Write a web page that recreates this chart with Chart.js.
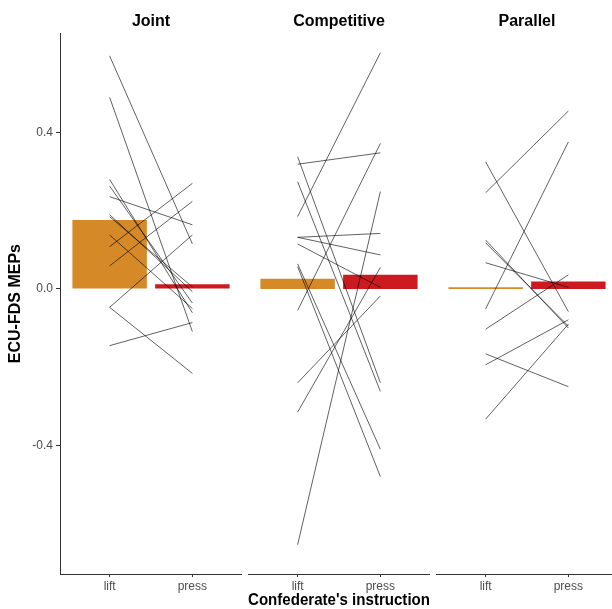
<!DOCTYPE html>
<html>
<head>
<meta charset="utf-8">
<script src="https://cdn.jsdelivr.net/npm/chart.js@4.4.1/dist/chart.umd.min.js"></script>
<style>
  html, body { margin: 0; padding: 0; background: #fff; overflow: hidden; width: 612px; height: 609px; }
  canvas { position: absolute; top: 0; }
</style>
</head>
<body>
<canvas id="c0" width="242" height="609" style="left:0px;width:242px;height:609px"></canvas>
<canvas id="c1" width="182" height="609" style="left:248px;width:182px;height:609px"></canvas>
<canvas id="c2" width="182" height="609" style="left:436px;width:182px;height:609px"></canvas>
<script>
// ---- data ----
const conditions = ['Joint', 'Competitive', 'Parallel'];
const instructions = ['lift', 'press'];
const meanLift  = [0.176, 0.026, 0.004];
const meanPress = [0.012, 0.036, 0.019];
const yTicks = [-0.4, 0.0, 0.4];

const jointLift  = [0.596, 0.490, 0.280, 0.263, 0.236, 0.190, 0.185, 0.138, 0.108, 0.059, -0.047, -0.047, -0.145];
const jointPress = [0.115, -0.109, -0.061, -0.036, 0.164, -0.007, 0.005, -0.050, 0.270, 0.224, 0.138, -0.216, -0.086];

const compLift  = [0.185, 0.319, 0.338, 0.274, -0.055, 0.132, 0.132, 0.115, 0.064, 0.057, -0.240, -0.315, -0.654];
const compPress = [0.604, 0.348, -0.240, -0.262, 0.372, 0.142, 0.087, 0.004, -0.410, -0.480, -0.018, 0.055, 0.249];

const parLift  = [0.325, 0.246, 0.125, 0.118, 0.067, -0.051, -0.103, -0.166, -0.194, -0.333];
const parPress = [-0.058, 0.455, -0.100, -0.095, 0.004, 0.376, 0.036, -0.250, -0.079, -0.090];

const subjLift  = [jointLift, compLift, parLift];
const subjPress = [jointPress, compPress, parPress];

// ---- styles ----
const FONT = '"Liberation Sans", Arial, Helvetica, sans-serif';
const ORANGE = '#D68A27';
const RED = '#CB1B20';
const AXIS = '#333333';
const LABEL = '#4D4D4D';
const Y_MIN = -0.729, Y_MAX = 0.654;

function makePanel(id, idx) {
  const lift = subjLift[idx], press = subjPress[idx];
  const datasets = [{
    type: 'bar',
    data: [{x: 1, y: meanLift[idx]}, {x: 2, y: meanPress[idx]}],
    backgroundColor: [ORANGE, RED],
    borderWidth: 0,
    categoryPercentage: 1,
    barPercentage: 0.9,
    order: 1
  }];
  lift.forEach((v, i) => {
    datasets.push({
      type: 'line',
      data: [{x: 1, y: v}, {x: 2, y: press[i]}],
      borderColor: 'rgba(0,0,0,0.78)',
      borderWidth: 0.8,
      pointRadius: 0,
      fill: false,
      tension: 0,
      order: 0
    });
  });
  const showY = idx === 0;
  const showXTitle = idx === 1;
  new Chart(document.getElementById(id), {
    type: 'bar',
    data: { datasets },
    options: {
      responsive: false,
      animation: false,
      layout: { padding: 0 },
      plugins: {
        legend: { display: false },
        tooltip: { enabled: false },
        title: {
          display: true,
          text: conditions[idx],
          fullSize: false,
          color: '#000',
          font: { family: FONT, size: 16, weight: 'bold' },
          padding: { top: 12, bottom: 2 }
        }
      },
      scales: {
        x: {
          type: 'linear',
          offset: false,
          min: 0.4, max: 2.6,
          afterBuildTicks: s => { s.ticks = [1, 2].map(v => ({ value: v })); },
          afterFit: s => { s.height = 35; },
          ticks: {
            callback: (v, i) => instructions[i],
            color: LABEL,
            font: { family: FONT, size: 12 },
            padding: 2,
            maxRotation: 0
          },
          grid: { display: true, offset: false, drawOnChartArea: false, drawTicks: true, tickLength: 3, color: AXIS, lineWidth: 1 },
          border: { display: true, color: AXIS, width: 1 },
          title: {
            display: showXTitle,
            text: "Confederate's instruction",
            color: '#000',
            font: { family: FONT, size: 16, weight: 'bold', lineHeight: 1.0 },
            padding: { top: 0, bottom: 0 }
          }
        },
        y: {
          type: 'linear',
          display: showY,
          min: Y_MIN, max: Y_MAX,
          afterBuildTicks: s => { s.ticks = yTicks.map(v => ({ value: v })); },
          afterFit: s => { if (showY) s.width = 60; },
          ticks: {
            callback: v => v.toFixed(1),
            color: LABEL,
            font: { family: FONT, size: 12 },
            padding: 3
          },
          grid: { display: true, drawOnChartArea: false, drawTicks: true, tickLength: 4, color: AXIS, lineWidth: 1 },
          border: { display: true, color: AXIS, width: 1 },
          title: {
            display: true,
            text: 'ECU-FDS MEPs',
            color: '#000',
            font: { family: FONT, size: 16, weight: 'bold' },
            padding: { top: 6, bottom: 0 }
          }
        }
      }
    }
  });
}

makePanel('c0', 0);
makePanel('c1', 1);
makePanel('c2', 2);
</script>
</body>
</html>
